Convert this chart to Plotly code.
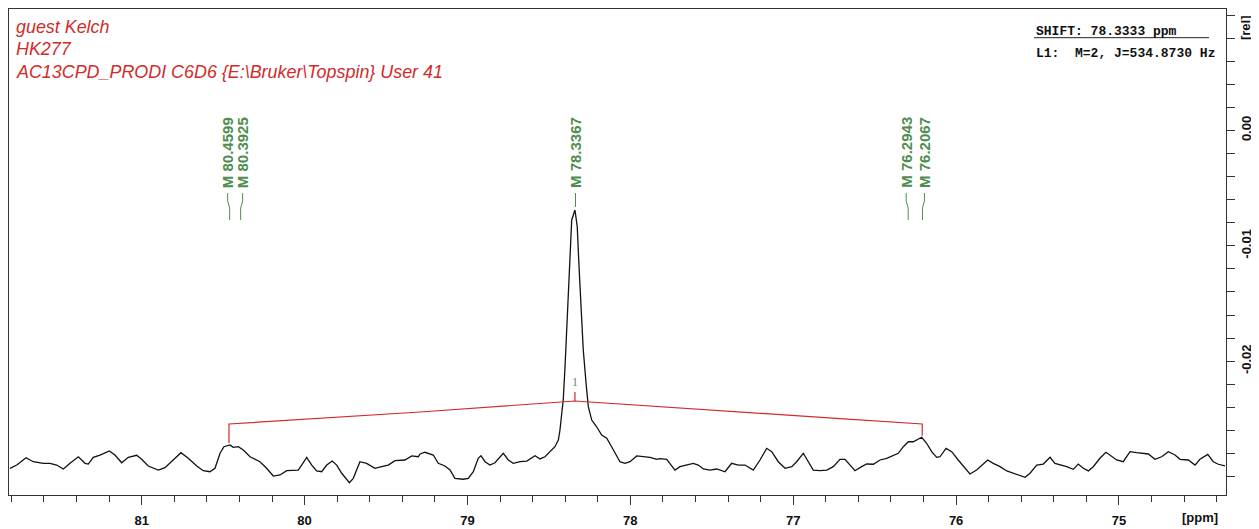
import plotly.graph_objects as go

# ---------------- data ----------------
ppm = [81.809, 81.767, 81.710, 81.666, 81.604, 81.563, 81.522, 81.481, 81.440, 81.389,
       81.348, 81.328, 81.297, 81.256, 81.199, 81.164, 81.123, 81.082, 81.031, 81.000,
       80.960, 80.898, 80.857, 80.806, 80.759, 80.714, 80.662, 80.622, 80.581, 80.550,
       80.519, 80.495, 80.458, 80.438, 80.407, 80.376, 80.335, 80.274, 80.233, 80.192,
       80.151, 80.110, 80.069, 80.039, 80.018, 79.987, 79.956, 79.926, 79.895, 79.864,
       79.830, 79.803, 79.772, 79.725, 79.701, 79.660, 79.619, 79.568, 79.527, 79.486,
       79.445, 79.414, 79.384, 79.342, 79.302, 79.291, 79.261, 79.210, 79.179, 79.138,
       79.107, 79.077, 79.026, 78.995, 78.964, 78.934, 78.917, 78.892, 78.862, 78.831,
       78.780, 78.749, 78.719, 78.677, 78.636, 78.585, 78.555, 78.524, 78.493, 78.463,
       78.442, 78.432, 78.421, 78.412, 78.401, 78.391, 78.381, 78.370, 78.360, 78.340,
       78.326, 78.315, 78.303, 78.289, 78.272, 78.258, 78.237, 78.207, 78.176, 78.145,
       78.115, 78.084, 78.064, 78.033, 78.002, 77.961, 77.920, 77.879, 77.838, 77.818,
       77.777, 77.757, 77.726, 77.695, 77.654, 77.614, 77.583, 77.552, 77.511, 77.470,
       77.419, 77.378, 77.337, 77.296, 77.245, 77.204, 77.163, 77.132, 77.092, 77.050,
       77.009, 76.979, 76.938, 76.907, 76.877, 76.836, 76.794, 76.754, 76.713, 76.682,
       76.651, 76.621, 76.580, 76.549, 76.508, 76.467, 76.426, 76.395, 76.355, 76.324,
       76.293, 76.263, 76.211, 76.181, 76.150, 76.119, 76.099, 76.062, 76.027, 75.987,
       75.945, 75.915, 75.874, 75.843, 75.806, 75.772, 75.730, 75.689, 75.649, 75.608,
       75.577, 75.546, 75.505, 75.465, 75.423, 75.393, 75.352, 75.321, 75.281, 75.250,
       75.219, 75.188, 75.158, 75.117, 75.080, 75.045, 75.014, 74.974, 74.932, 74.891,
       74.851, 74.820, 74.779, 74.738, 74.697, 74.656, 74.625, 74.574, 74.533, 74.503,
       74.455, 74.421, 74.390, 74.349]

intensity = [-0.02928, -0.02900, -0.02836, -0.02871, -0.02885, -0.02885, -0.02900, -0.02934, -0.02885, -0.02828,
             -0.02885, -0.02891, -0.02833, -0.02813, -0.02778, -0.02813, -0.02880, -0.02833, -0.02815, -0.02850,
             -0.02908, -0.02943, -0.02923, -0.02856, -0.02793, -0.02841, -0.02908, -0.02949, -0.02958, -0.02928,
             -0.02798, -0.02741, -0.02726, -0.02746, -0.02741, -0.02770, -0.02828, -0.02871, -0.02928, -0.02995,
             -0.02986, -0.02949, -0.02949, -0.02943, -0.02900, -0.02833, -0.02900, -0.02951, -0.02958, -0.02900,
             -0.02865, -0.02900, -0.02971, -0.03053, -0.03015, -0.02871, -0.02885, -0.02928, -0.02914, -0.02900,
             -0.02862, -0.02862, -0.02856, -0.02821, -0.02828, -0.02804, -0.02789, -0.02813, -0.02885, -0.02908,
             -0.02943, -0.03015, -0.03023, -0.03015, -0.02958, -0.02841, -0.02819, -0.02871, -0.02900, -0.02880,
             -0.02798, -0.02856, -0.02885, -0.02871, -0.02865, -0.02819, -0.02847, -0.02828, -0.02784, -0.02741,
             -0.02683, -0.02596, -0.02451, -0.02336, -0.02048, -0.01756, -0.01354, -0.01062, -0.00776, -0.00690,
             -0.00834, -0.01181, -0.01470, -0.01903, -0.02189, -0.02394, -0.02510, -0.02568, -0.02640, -0.02668,
             -0.02741, -0.02828, -0.02871, -0.02885, -0.02871, -0.02821, -0.02828, -0.02833, -0.02850, -0.02845,
             -0.02850, -0.02885, -0.02943, -0.02914, -0.02900, -0.02885, -0.02900, -0.02934, -0.02943, -0.02934,
             -0.02958, -0.02885, -0.02900, -0.02900, -0.02943, -0.02856, -0.02755, -0.02784, -0.02871, -0.02928,
             -0.02914, -0.02871, -0.02798, -0.02871, -0.02943, -0.02949, -0.02943, -0.02914, -0.02850, -0.02850,
             -0.02900, -0.02949, -0.02914, -0.02891, -0.02893, -0.02856, -0.02841, -0.02821, -0.02798, -0.02741,
             -0.02698, -0.02698, -0.02659, -0.02711, -0.02784, -0.02833, -0.02828, -0.02755, -0.02784, -0.02856,
             -0.02928, -0.02977, -0.02943, -0.02900, -0.02856, -0.02885, -0.02914, -0.02951, -0.02971, -0.02986,
             -0.03006, -0.02971, -0.02900, -0.02891, -0.02833, -0.02885, -0.02900, -0.02914, -0.02937, -0.02891,
             -0.02928, -0.02951, -0.02914, -0.02841, -0.02789, -0.02828, -0.02856, -0.02871, -0.02784, -0.02793,
             -0.02798, -0.02804, -0.02850, -0.02828, -0.02784, -0.02813, -0.02850, -0.02856, -0.02900, -0.02850,
             -0.02807, -0.02871, -0.02893, -0.02908]

# integral trace (with end brackets)
integral_ppm = [80.464, 80.464, 79.291, 78.340, 76.713, 76.208, 76.208]
integral_val = [-0.02709, -0.02544, -0.02440, -0.02345, -0.02497, -0.02544, -0.02646]
integral_mark_ppm = [78.340, 78.340]
integral_mark_val = [-0.02345, -0.02267]
integral_label = "1"

peak_ppm = [80.4599, 80.3925, 78.3367, 76.2943, 76.2067]
peak_label_shift_px = [-2, 2, 0, -2, 2]
peak_line_bottom = [0.5658, 0.5658, 0.5926, 0.5658, 0.5658]   # paper y where leader meets peak

x_range = [81.8147, 74.343]
y_range = [-0.031594, 0.010520]
x_major = [81, 80, 79, 78, 77, 76, 75]
y_major = [0.0, -0.01, -0.02]
y_major_text = ["0.00", "-0.01", "-0.02"]

header_lines = ["guest Kelch", "HK277", "AC13CPD_PRODI C6D6 {E:\\Bruker\\Topspin} User 41"]
shift_text = "SHIFT: 78.3333 ppm"
l1_text = "L1:  M=2, J=534.8730 Hz"

# ---------------- styles ----------------
# the page body has an 8px margin, so the figure is 8px smaller and margins compensate
W, H = 1251, 521
ML, MR, MT, MB = 1, 33, 1, 34
PW = W - ML - MR
RED = "#d22b2b"
GREEN = "#4f8d4f"
SANS = "Liberation Sans, Arial, sans-serif"
MONO = "Liberation Mono, Courier New, monospace"
ppm_per_px = (x_range[0] - x_range[1]) / PW

fig = go.Figure()
fig.add_trace(go.Scatter(x=ppm, y=intensity, mode="lines",
                         line=dict(color="#111111", width=1.3), hoverinfo="skip"))
fig.add_trace(go.Scatter(x=integral_ppm, y=integral_val, mode="lines",
                         line=dict(color=RED, width=1.2), hoverinfo="skip"))
fig.add_trace(go.Scatter(x=integral_mark_ppm, y=integral_mark_val, mode="lines",
                         line=dict(color=RED, width=1.2), hoverinfo="skip"))

annotations = []
shapes = []

# integral number
annotations.append(dict(x=integral_mark_ppm[1], y=integral_mark_val[1], xref="x", yref="y",
                        text=integral_label, showarrow=False, yanchor="bottom", yshift=1,
                        font=dict(family="Liberation Serif, serif", size=12, color="#5f8f5f")))

# peak labels with leader lines
label_bottom = 0.6276
leader_top = 0.6214
kink_a = 0.6049
kink_b = 0.5905
for p, sh, lb in zip(peak_ppm, peak_label_shift_px, peak_line_bottom):
    annotations.append(dict(x=p, y=label_bottom, xref="x", yref="paper",
                            text="M " + f"{p:.4f}", showarrow=False, textangle=-90,
                            xanchor="center", yanchor="bottom", xshift=sh,
                            font=dict(family=SANS, size=15, color=GREEN, weight="bold")))
    xs = p - sh * ppm_per_px
    if sh == 0:
        path = f"M {p},{leader_top} L {p},{lb}"
    else:
        path = f"M {xs},{leader_top} L {xs},{kink_a} L {p},{kink_b} L {p},{lb}"
    shapes.append(dict(type="path", xref="x", yref="paper", path=path,
                       line=dict(color=GREEN, width=1)))

# header text
for i, t in enumerate(header_lines):
    annotations.append(dict(x=0.0041, y=[0.963, 0.9177, 0.8704][i], xref="paper", yref="paper",
                            text=t, showarrow=False, xanchor="left", yanchor="middle",
                            font=dict(family=SANS, size=17.9, color=RED, style="italic")))

# top right info box
annotations.append(dict(x=0.8425, y=0.9533, xref="paper", yref="paper", text=shift_text,
                        showarrow=False, xanchor="left", yanchor="middle",
                        font=dict(family=MONO, size=13, color="#111111", weight="bold")))
annotations.append(dict(x=0.8425, y=0.9088, xref="paper", yref="paper", text=l1_text,
                        showarrow=False, xanchor="left", yanchor="middle",
                        font=dict(family=MONO, size=13, color="#111111", weight="bold")))
shapes.append(dict(type="line", xref="paper", yref="paper", x0=0.8423, x1=0.9860,
                   y0=0.941, y1=0.941, line=dict(color="#222222", width=1)))

# axis unit labels
annotations.append(dict(x=0.9786, y=-0.0473, xref="paper", yref="paper", text="[ppm]",
                        showarrow=False, xanchor="center", yanchor="middle",
                        font=dict(family=SANS, size=13, color="#111111", weight="bold")))
annotations.append(dict(x=1.0165, y=0.961, xref="paper", yref="paper", text="[rel]",
                        showarrow=False, textangle=-90, xanchor="center", yanchor="middle",
                        font=dict(family=SANS, size=13, color="#111111", weight="bold")))

fig.update_layout(
    width=W, height=H,
    margin=dict(l=ML, r=MR, t=MT, b=MB, pad=0),
    paper_bgcolor="white", plot_bgcolor="white",
    showlegend=False,
    annotations=annotations, shapes=shapes,
    xaxis=dict(range=x_range, autorange=False, showgrid=False, zeroline=False,
               showline=True, mirror=True, linecolor="#333333", linewidth=1,
               ticks="outside", ticklen=9, tickcolor="#333333", tickwidth=1,
               tickvals=x_major, ticktext=[str(v) for v in x_major],
               ticklabelstandoff=4,
               tickfont=dict(family=SANS, size=13, color="#111111", weight="bold"),
               minor=dict(ticks="outside", ticklen=6, dtick=0.2, tick0=0,
                          tickcolor="#333333", showgrid=False)),
    yaxis=dict(range=y_range, autorange=False, side="right", showgrid=False, zeroline=False,
               showline=True, mirror=True, linecolor="#333333", linewidth=1,
               ticks="outside", ticklen=8, tickcolor="#333333", tickwidth=1,
               tickvals=y_major, ticktext=y_major_text, tickangle=-90,
               tickfont=dict(family=SANS, size=13, color="#111111", weight="bold"),
               minor=dict(ticks="outside", ticklen=8, dtick=0.002, tick0=0,
                          tickcolor="#333333", showgrid=False)),
)

fig.write_html("out.html")
